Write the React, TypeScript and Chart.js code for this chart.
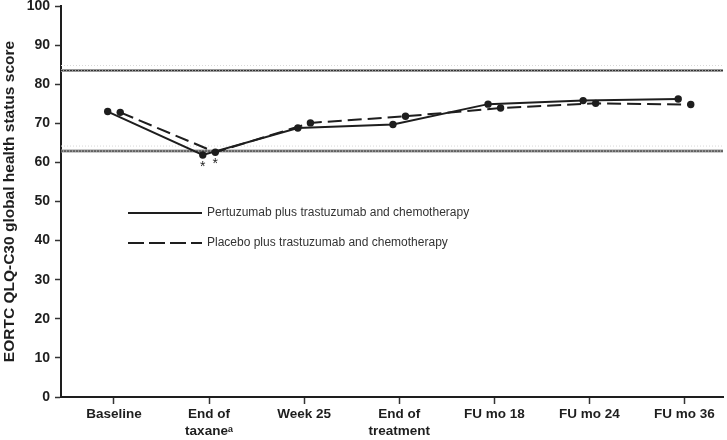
import React, { useEffect, useRef } from "react";
import { Chart, registerables } from "chart.js";

Chart.register(...registerables);

const categories: string[][] = [
  ["Baseline"],
  ["End of", "taxaneᵃ"],
  ["Week 25"],
  ["End of", "treatment"],
  ["FU mo 18"],
  ["FU mo 24"],
  ["FU mo 36"],
];
const pertuzumab = [73.0, 61.9, 68.8, 69.7, 74.9, 75.8, 76.2];
const placebo = [72.8, 62.6, 70.1, 71.8, 73.9, 75.1, 74.8];
const refLines = [83.5, 62.9];
const significantIdx = [1];
const yTicks = [0, 10, 20, 30, 40, 50, 60, 70, 80, 90, 100];
const legendLabels = [
  "Pertuzumab plus trastuzumab and chemotherapy",
  "Placebo plus trastuzumab and chemotherapy",
];
const yTitle = "EORTC QLQ-C30 global health status score";

const JITTER = 0.066;
const INK = "#1e1e1e";
const FONT = "'Liberation Sans', Arial, Helvetica, sans-serif";

export default function App() {
  const ref = useRef<HTMLCanvasElement | null>(null);
  useEffect(() => {
    document.body.style.margin = "0";
    const canvas = ref.current;
    if (!canvas) return;

    const refLinePlugin = {
      id: "refLines",
      beforeDatasetsDraw(chart: any) {
        const { ctx, chartArea } = chart;
        const ys = chart.scales.y;
        ctx.save();
        refLines.forEach((v) => {
          const y = ys.getPixelForValue(v);
          ctx.setLineDash([1, 2]);
          ctx.strokeStyle = "#d8d8d8";
          ctx.lineWidth = 1;
          ctx.beginPath();
          ctx.moveTo(chartArea.left, y - 5);
          ctx.lineTo(chartArea.right, y - 5);
          ctx.stroke();
          ctx.setLineDash([]);
          ctx.strokeStyle = "#9a9a9a";
          ctx.lineWidth = 3;
          ctx.beginPath();
          ctx.moveTo(chartArea.left, y);
          ctx.lineTo(chartArea.right, y);
          ctx.stroke();
          ctx.setLineDash([2, 1]);
          ctx.strokeStyle = "#333";
          ctx.lineWidth = 1;
          ctx.beginPath();
          ctx.moveTo(chartArea.left, y);
          ctx.lineTo(chartArea.right, y);
          ctx.stroke();
        });
        ctx.restore();
      },
      afterDatasetsDraw(chart: any) {
        const { ctx, chartArea } = chart;
        ctx.save();
        ctx.fillStyle = INK;
        ctx.font = `14px ${FONT}`;
        ctx.textAlign = "center";
        ctx.textBaseline = "top";
        [0, 1].forEach((d) => {
          const meta = chart.getDatasetMeta(d);
          significantIdx.forEach((i) => {
            const p = meta.data[i];
            ctx.fillText("*", p.x, p.y + 5);
          });
        });
        // legend
        const lx0 = chartArea.left + 67;
        const lx1 = chartArea.left + 141;
        const tx = chartArea.left + 146;
        const rows = [chartArea.top + 207, chartArea.top + 237];
        ctx.lineWidth = 2;
        ctx.strokeStyle = INK;
        rows.forEach((y, k) => {
          ctx.setLineDash(k === 0 ? [] : [16, 5]);
          ctx.beginPath();
          ctx.moveTo(lx0, y);
          ctx.lineTo(lx1, y);
          ctx.stroke();
        });
        ctx.setLineDash([]);
        ctx.fillStyle = "#333";
        ctx.font = `12px ${FONT}`;
        ctx.textAlign = "left";
        ctx.textBaseline = "middle";
        rows.forEach((y, k) => ctx.fillText(legendLabels[k], tx, y));
        ctx.restore();
      },
    };

    const chart = new Chart(canvas, {
      type: "line",
      data: {
        datasets: [
          {
            label: legendLabels[0],
            data: pertuzumab.map((v, i) => ({ x: i - JITTER, y: v })),
            borderColor: INK,
            backgroundColor: INK,
            borderWidth: 2,
            pointRadius: 3.7,
            pointBackgroundColor: INK,
            pointBorderWidth: 0,
            tension: 0,
          },
          {
            label: legendLabels[1],
            data: placebo.map((v, i) => ({ x: i + JITTER, y: v })),
            borderColor: INK,
            backgroundColor: INK,
            borderWidth: 2,
            borderDash: [14, 6],
            pointRadius: 3.7,
            pointBackgroundColor: INK,
            pointBorderWidth: 0,
            tension: 0,
          },
        ],
      },
      options: {
        animation: false,
        responsive: false,
        devicePixelRatio: 1,
        layout: { padding: { top: 6, right: 4, left: 0, bottom: 0 } },
        plugins: {
          legend: { display: false },
          tooltip: { enabled: false },
        },
        scales: {
          x: {
            type: "linear",
            min: -0.557,
            max: 6.405,
            afterBuildTicks: (scale: any) => {
              scale.ticks = categories.map((_, i) => ({ value: i }));
            },
            afterFit: (scale: any) => {
              scale.height = 43;
              scale.paddingLeft = 0;
              scale.paddingRight = 0;
            },
            ticks: {
              autoSkip: false,
              maxRotation: 0,
              padding: 2,
              color: INK,
              font: { family: FONT, size: 13.5, weight: "bold", lineHeight: 1.25 },
              callback: (v: any) => categories[Math.round(Number(v))] as any,
            },
            grid: {
              display: true,
              drawOnChartArea: false,
              tickLength: 7,
              tickColor: "#333",
              tickWidth: 1.5,
            },
            border: { display: true, color: INK, width: 2 },
          },
          y: {
            type: "linear",
            min: 0,
            max: 100,
            afterBuildTicks: (scale: any) => {
              scale.ticks = yTicks.map((v) => ({ value: v }));
            },
            afterFit: (scale: any) => {
              scale.width = 61;
              scale.paddingTop = 0;
              scale.paddingBottom = 0;
            },
            ticks: {
              padding: 5,
              color: INK,
              font: { family: FONT, size: 14, weight: "bold" },
            },
            grid: {
              display: true,
              drawOnChartArea: false,
              tickLength: 6,
              tickColor: "#333",
              tickWidth: 1.5,
            },
            border: { display: true, color: INK, width: 2 },
            title: {
              display: true,
              text: yTitle,
              color: INK,
              padding: { top: 1, bottom: 0 },
              font: { family: FONT, size: 15.5, weight: "bold", lineHeight: 1.1 },
            },
          },
        },
      },
      plugins: [refLinePlugin],
    } as any);
    return () => chart.destroy();
  }, []);

  return (
    <div style={{ width: 727, height: 440 }}>
      <canvas ref={ref} width={727} height={440} />
    </div>
  );
}
